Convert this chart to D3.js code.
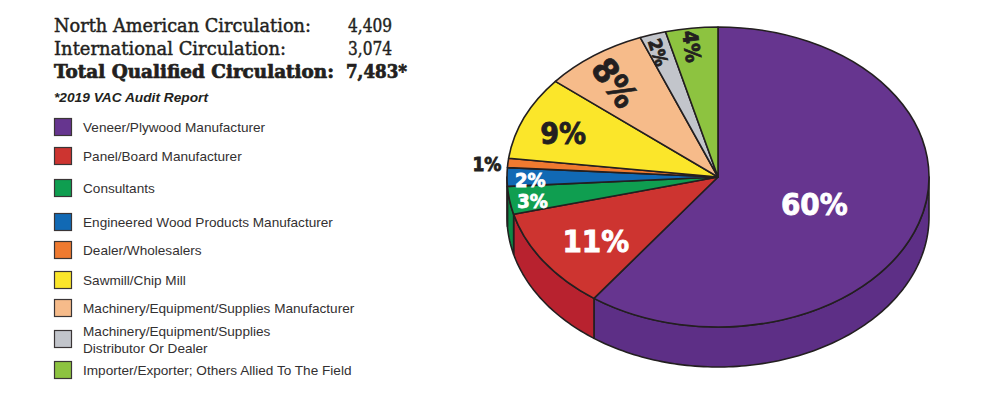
<!DOCTYPE html>
<html>
<head>
<meta charset="utf-8">
<script src="https://cdn.jsdelivr.net/npm/d3@7"></script>
<style>
  body { margin: 0; background: #fff; }
  svg { display: block; }
</style>
</head>
<body>
<svg id="chart" width="1000" height="394"></svg>
<script>
const categories = [
    'Veneer/Plywood Manufacturer',
    'Panel/Board Manufacturer',
    'Consultants',
    'Engineered Wood Products Manufacturer',
    'Dealer/Wholesalers',
    'Sawmill/Chip Mill',
    'Machinery/Equipment/Supplies Manufacturer',
    'Machinery/Equipment/Supplies\nDistributor Or Dealer',
    'Importer/Exporter; Others Allied To The Field'
];
const shares = [60, 11, 3, 2, 1, 9, 8, 2, 4];
const topColors = ['#66358f', '#cd3430', '#0f9e50', '#1169b4', '#ef7a30', '#fbe62a', '#f6bb8a', '#c2c5cb', '#8dc340'];
const sideColors = ['#5d2f86', '#b8222f', '#0c8a45', '#0e5e9f', '#d9692a', '#e6d020', '#e4a878', '#aeb1b7', '#7caf36'];
const labelColors = ['#fff', '#fff', '#fff', '#fff', '#231f20', '#231f20', '#231f20', '#231f20', '#231f20'];

const circLabels = ['North American Circulation:', 'International Circulation:', 'Total Qualified Circulation:'];
const circValues = ['4,409', '3,074', '7,483*'];
const footnote = '*2019 VAC Audit Report';

const svg = d3.select('#chart');
const ink = '#231f20';

// ---- header block
const header = svg.append('g');
const headY = [32, 55, 78];
const headW = [257, 232, 280];
circLabels.forEach((t, i) => {
    const bold = i === 2;
    header.append('text')
        .attr('x', 54).attr('y', headY[i])
        .attr('font-family', 'DejaVu Serif')
        .attr('font-size', 18)
        .attr('font-weight', bold ? 'bold' : 'normal')
        .attr('fill', ink)
        .attr('stroke', ink)
        .attr('stroke-width', bold ? 0.7 : 0.45)
        .attr('textLength', headW[i])
        .attr('lengthAdjust', 'spacingAndGlyphs')
        .text(t);
    header.append('text')
        .attr('x', bold ? 346 : 348).attr('y', headY[i])
        .attr('font-family', 'DejaVu Serif')
        .attr('font-size', 18)
        .attr('font-weight', bold ? 'bold' : 'normal')
        .attr('fill', ink)
        .attr('stroke', ink)
        .attr('stroke-width', bold ? 0.7 : 0.45)
        .attr('textLength', bold ? 61 : 44)
        .attr('lengthAdjust', 'spacingAndGlyphs')
        .text(circValues[i]);
});
header.append('text')
    .attr('x', 54).attr('y', 102)
    .attr('font-family', 'Liberation Sans')
    .attr('font-style', 'italic')
    .attr('font-weight', 'bold')
    .attr('font-size', 13)
    .attr('fill', ink)
    .attr('textLength', 154)
    .attr('lengthAdjust', 'spacingAndGlyphs')
    .text(footnote);

// ---- legend
const legendY = [127, 156, 188, 222, 250, 280, 308, 339, 370];
const legend = svg.append('g')
    .selectAll('g')
    .data(categories)
    .join('g')
    .attr('transform', (d, i) => `translate(54,${legendY[i]})`);

legend.append('rect')
    .attr('x', 0.5).attr('y', -8.5)
    .attr('width', 17).attr('height', 17)
    .attr('fill', (d, i) => topColors[i])
    .attr('stroke', '#3a3536')
    .attr('stroke-width', 1.2);

legend.append('text')
    .attr('x', 29)
    .attr('font-family', 'Liberation Sans')
    .attr('font-size', 13.6)
    .attr('fill', '#333031')
    .each(function (d) {
        const lines = d.split('\n');
        const t = d3.select(this);
        lines.forEach((ln, k) => {
            t.append('tspan')
                .attr('x', 29)
                .attr('y', (k - (lines.length - 1) / 2) * 17 + 5)
                .text(ln);
        });
    });

// ---- 3D pie
const cx = 718, cy = 177, rx = 211, ry = 150, depth = 40;

const pie = d3.pie().sort(null).value(d => d)(shares);

const ex = a => cx + rx * Math.sin(a);
const ey = (a, dy) => cy - ry * Math.cos(a) + dy;

const lineGen = d3.line();

function sidePath(a0, a1) {
    const pts = [];
    const n = Math.max(2, Math.ceil((a1 - a0) / 0.02));
    for (let k = 0; k <= n; k++) {
        const a = a0 + (a1 - a0) * k / n;
        pts.push([ex(a), ey(a, 0)]);
    }
    for (let k = n; k >= 0; k--) {
        const a = a0 + (a1 - a0) * k / n;
        pts.push([ex(a), ey(a, depth)]);
    }
    return lineGen(pts) + 'Z';
}

const front0 = Math.PI / 2, front1 = Math.PI * 3 / 2;
const sides = pie
    .map((p, i) => ({ i, a0: Math.max(p.startAngle, front0), a1: Math.min(p.endAngle, front1) }))
    .filter(s => s.a1 > s.a0);

svg.append('g')
    .selectAll('path')
    .data(sides)
    .join('path')
    .attr('d', s => sidePath(s.a0, s.a1))
    .attr('fill', s => sideColors[s.i])
    .attr('stroke', ink)
    .attr('stroke-width', 1.6)
    .attr('stroke-linejoin', 'round');

const arc = d3.arc().innerRadius(0).outerRadius(rx);

svg.append('g')
    .attr('transform', `translate(${cx},${cy}) scale(1,${ry / rx})`)
    .selectAll('path')
    .data(pie)
    .join('path')
    .attr('d', arc)
    .attr('fill', (d, i) => topColors[i])
    .attr('stroke', ink)
    .attr('stroke-width', 1.6)
    .attr('stroke-linejoin', 'round')
    .attr('vector-effect', 'non-scaling-stroke');

// ---- percent labels
function labelSpec(p) {
    const v = p.data;
    const mid = (p.startAngle + p.endAngle) / 2;
    const deg = mid * 180 / Math.PI;
    let f, size, rot = 0;
    if (v >= 50) { f = 0.48; size = 31; }
    else if (v >= 10) { f = 0.7; size = 31; }
    else if (v === 1) { f = 1.1; size = 19; }
    else if (deg < 300) { f = v >= 5 ? 0.8 : 0.89; size = v >= 5 ? 30 : 20; }
    else { f = v >= 5 ? 0.8 : 0.88; size = v >= 5 ? 34 : (v >= 3 ? 21 : 18); rot = deg - 270; }
    return { x: cx + rx * f * Math.sin(mid), y: cy - ry * f * Math.cos(mid), size, rot };
}

svg.append('g')
    .selectAll('text')
    .data(pie)
    .join('text')
    .each(function (p) {
        const s = labelSpec(p);
        d3.select(this)
            .attr('transform', `translate(${s.x},${s.y}) rotate(${s.rot})`)
            .attr('font-size', s.size);
    })
    .attr('text-anchor', 'middle')
    .attr('dy', '0.5em')
    .attr('font-family', 'DejaVu Sans Condensed')
    .attr('font-weight', 'bold')
    .attr('fill', (d, i) => labelColors[i])
    .attr('stroke', (d, i) => labelColors[i])
    .attr('stroke-width', 0.8)
    .text(d => d.data + '%');
</script>
</body>
</html>
